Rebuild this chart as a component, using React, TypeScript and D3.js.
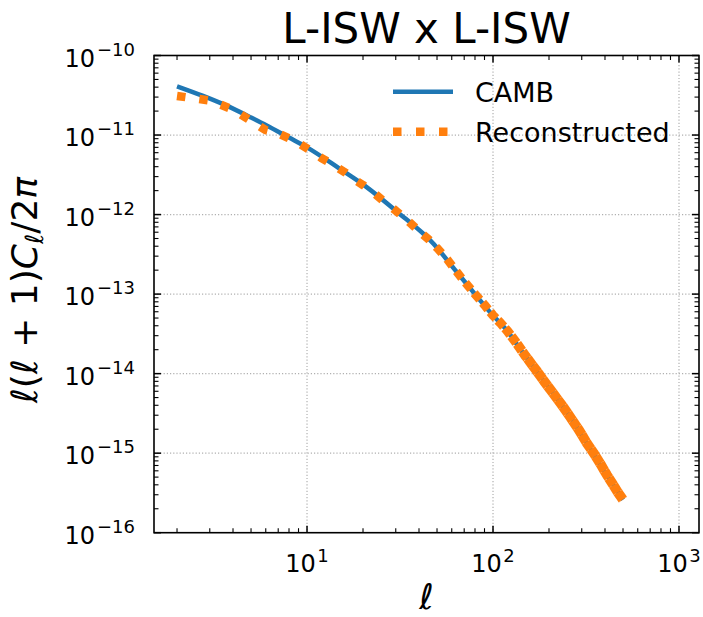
import React from "react";
import * as d3 from "d3";

// ---- data ----
const ELL_CAMB = [2, 2.76, 3.69, 5, 6.07, 8, 10, 15, 21, 30, 48, 62, 80, 98.5, 119, 140, 173, 212, 261, 321, 395, 500];
const CL_CAMB = [4.1e-11, 3.1e-11, 2.34e-11, 1.66e-11, 1.32e-11, 9.3e-12, 7.0e-12, 3.76e-12, 2.2e-12, 1.12e-12, 4.27e-13, 2.06e-13, 1.0e-13, 5.6e-14, 3.47e-14, 2.04e-14, 1.05e-14, 5.56e-15, 2.82e-15, 1.31e-15, 6.0e-16, 2.6e-16];

const ELL_REC = [2, 3, 4, 5, 6, 7, 8, 9, 10, 11, 12, 13, 14, 16, 18, 20, 23, 26, 30, 35, 40, 45, 50, 56, 62, 70, 80, 90, 100, 110, 120, 135, 150, 170, 190, 210, 235, 260, 290, 320, 350, 380, 410, 440, 470, 500];
const CL_REC = [3.1e-11, 2.72e-11, 2.09e-11, 1.51e-11, 1.15e-11, 1.05e-11, 9.1e-12, 7.9e-12, 6.8e-12, 5.9e-12, 5.1e-12, 4.6e-12, 4.1e-12, 3.4e-12, 2.75e-12, 2.35e-12, 1.85e-12, 1.45e-12, 1.12e-12, 8.3e-13, 6.2e-13, 4.9e-13, 3.8e-13, 2.85e-13, 2.08e-13, 1.45e-13, 1.0e-13, 7.3e-14, 5.4e-14, 4.3e-14, 3.4e-14, 2.35e-14, 1.65e-14, 1.12e-14, 7.8e-15, 5.7e-15, 4.0e-15, 2.85e-15, 1.95e-15, 1.33e-15, 9.8e-16, 7.2e-16, 5.3e-16, 4.1e-16, 3.2e-16, 2.6e-16];

const X_MAJOR = [10, 100, 1000];
const X_MAJOR_EXP = ["1", "2", "3"];
const Y_MAJOR_EXP = [-10, -11, -12, -13, -14, -15, -16];
const SERIES_NAMES = ["CAMB", "Reconstructed"];
const TITLE = "L-ISW x L-ISW";

// ---- layout ----
const W = 703, H = 617;
const L = 154, R = 699, T = 55.5, B = 532.7;
const BLUE = "#1f77b4", ORANGE = "#ff7f0e";
const FONT = "DejaVu Sans, sans-serif";

const x = d3.scaleLog().domain([1.504, 1281]).range([L, R]);
const y = d3.scaleLog().domain([1e-16, 1e-10]).range([B, T]);

type P = [number, number];

function dashes(pts: P[], dash: number, gapFor: (px: number) => number): P[][] {
  const cum = [0];
  for (let i = 1; i < pts.length; i++) {
    cum.push(cum[i - 1] + Math.hypot(pts[i][0] - pts[i - 1][0], pts[i][1] - pts[i - 1][1]));
  }
  const total = cum[cum.length - 1];
  const at = (s: number): P => {
    let i = d3.bisectRight(cum, s) - 1;
    i = Math.max(0, Math.min(i, pts.length - 2));
    const seg = cum[i + 1] - cum[i] || 1;
    const t = (s - cum[i]) / seg;
    return [pts[i][0] + t * (pts[i + 1][0] - pts[i][0]), pts[i][1] + t * (pts[i + 1][1] - pts[i][1])];
  };
  const out: P[][] = [];
  let s = 0;
  while (s < total) {
    const e = Math.min(s + dash, total);
    const seg: P[] = [at(s)];
    for (let i = 0; i < pts.length; i++) if (cum[i] > s && cum[i] < e) seg.push(pts[i]);
    seg.push(at(e));
    out.push(seg);
    const p = at(e);
    s = e + gapFor(p[0]);
  }
  return out;
}

export default function App() {
  const line = d3.line<[number, number]>().x((d) => x(d[0])).y((d) => y(d[1])).curve(d3.curveMonotoneX);
  const camb = ELL_CAMB.map((l, i) => [l, CL_CAMB[i]] as [number, number]);
  const recPx: P[] = ELL_REC.map((l, i) => [x(l), y(CL_REC[i])]);
  const gapScale = d3.scaleLog().domain([25, 60, 100, 160]).range([14, 7, 3, 0]).clamp(true);
  const widthScale = d3.scaleLog().domain([60, 160]).range([8.5, 10]).clamp(true);
  const recDashes = dashes(recPx, 8.5, (px) => gapScale(x.invert(px)));
  const poly = d3.line<P>();

  const xMinor: number[] = [];
  for (const dec of [1, 10, 100]) for (let k = 2; k <= 9; k++) {
    const v = k * dec;
    if (v >= 1.504 && v <= 1281) xMinor.push(v);
  }
  const yMinor: number[] = [];
  for (let e = -16; e < -10; e++) for (let k = 2; k <= 9; k++) yMinor.push(k * Math.pow(10, e));

  const maj = 7, mnr = 4.5;

  return (
    <svg width={W} height={H} style={{ position: "absolute", left: 0, top: 0, background: "#fff" }} fontFamily={FONT}>
      <defs>
        <clipPath id="plotclip">
          <rect x={L} y={T} width={R - L} height={B - T} />
        </clipPath>
      </defs>
      {/* grid */}
      <g stroke="#b0b0b0" strokeWidth={1.2} strokeDasharray="1.2,2">
        {X_MAJOR.map((v) => (
          <line key={"gx" + v} x1={x(v)} x2={x(v)} y1={T} y2={B} />
        ))}
        {Y_MAJOR_EXP.filter((e) => e > -16 && e < -10).map((e) => (
          <line key={"gy" + e} x1={L} x2={R} y1={y(Math.pow(10, e))} y2={y(Math.pow(10, e))} />
        ))}
      </g>
      {/* data */}
      <g clipPath="url(#plotclip)">
        <path d={line(camb) || ""} fill="none" stroke={BLUE} strokeWidth={4.5} />
        <g stroke={ORANGE} fill="none" strokeLinecap="butt" strokeLinejoin="round">
          {recDashes.map((seg, i) => (
            <path key={i} d={poly(seg) || ""} strokeWidth={widthScale(x.invert(seg[0][0]))} />
          ))}
        </g>
      </g>
      {/* ticks */}
      <g stroke="#000">
        {X_MAJOR.map((v) => (
          <g key={"tx" + v} strokeWidth={1.5}>
            <line x1={x(v)} x2={x(v)} y1={B} y2={B - maj} />
            <line x1={x(v)} x2={x(v)} y1={T} y2={T + maj} />
          </g>
        ))}
        {xMinor.map((v) => (
          <g key={"mx" + v} strokeWidth={1.1}>
            <line x1={x(v)} x2={x(v)} y1={B} y2={B - mnr} />
            <line x1={x(v)} x2={x(v)} y1={T} y2={T + mnr} />
          </g>
        ))}
        {Y_MAJOR_EXP.map((e) => {
          const yy = y(Math.pow(10, e));
          return (
            <g key={"ty" + e} strokeWidth={1.5}>
              <line x1={L} x2={L + maj} y1={yy} y2={yy} />
              <line x1={R} x2={R - maj} y1={yy} y2={yy} />
            </g>
          );
        })}
        {yMinor.map((v, i) => (
          <g key={"my" + i} strokeWidth={1.1}>
            <line x1={L} x2={L + mnr} y1={y(v)} y2={y(v)} />
            <line x1={R} x2={R - mnr} y1={y(v)} y2={y(v)} />
          </g>
        ))}
      </g>
      {/* spines */}
      <rect x={L} y={T} width={R - L} height={B - T} fill="none" stroke="#000" strokeWidth={1.6} />
      {/* tick labels */}
      <g fill="#000">
        {X_MAJOR.map((v, i) => (
          <text key={"lx" + v} x={x(v)} y={571.5} textAnchor="middle" fontSize={24}>
            <tspan>10</tspan>
            <tspan fontSize={18} dx={1.5} dy={-10}>{X_MAJOR_EXP[i]}</tspan>
          </text>
        ))}
        {Y_MAJOR_EXP.map((e) => (
          <text key={"ly" + e} x={135} y={y(Math.pow(10, e)) + 11} textAnchor="end" fontSize={24}>
            <tspan>10</tspan>
            <tspan fontSize={18} dx={2} dy={-11}>{"\u2212" + Math.abs(e)}</tspan>
          </text>
        ))}
      </g>
      {/* title */}
      <text x={(L + R) / 2} y={43} textAnchor="middle" fontSize={42}>{TITLE}</text>
      {/* x label */}
      <text x={(L + R) / 2} y={609} textAnchor="middle" fontSize={35} fontStyle="italic">ℓ</text>
      {/* y label */}
      <text transform="rotate(-90)" x={-290} y={37} textAnchor="middle" fontSize={36}>
        <tspan fontStyle="italic">ℓ</tspan>
        <tspan>(</tspan>
        <tspan fontStyle="italic">ℓ</tspan>
        <tspan> + 1)</tspan>
        <tspan fontStyle="italic">C</tspan>
        <tspan fontStyle="italic" fontSize={25} dy={6}>ℓ</tspan>
        <tspan dy={-6}>/2</tspan>
        <tspan fontStyle="italic">π</tspan>
      </text>
      {/* legend */}
      <line x1={393} x2={453} y1={91.7} y2={91.7} stroke={BLUE} strokeWidth={4.5} />
      <line x1={393} x2={453} y1={131.7} y2={131.7} stroke={ORANGE} strokeWidth={8.5} strokeDasharray="8.5,14.5" />
      <text x={475} y={101.7} fontSize={27}>{SERIES_NAMES[0]}</text>
      <text x={475} y={141.7} fontSize={27}>{SERIES_NAMES[1]}</text>
    </svg>
  );
}
